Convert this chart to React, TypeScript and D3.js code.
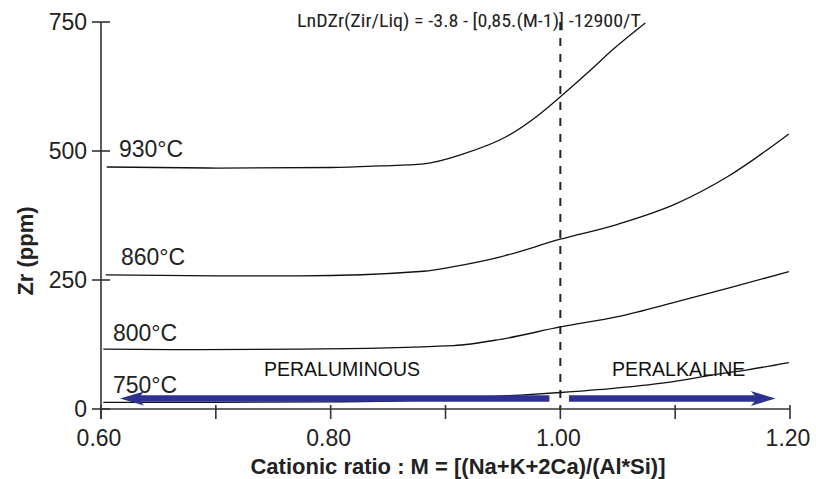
import React from "react";
import * as d3 from "d3";

// ---- data ----
const m930 = [0.605, 0.70, 0.80, 0.843, 0.881, 0.915, 0.954, 0.98, 1.0, 1.0235, 1.046, 1.074];
const zr930 = [469, 467, 468, 471, 475, 494, 529, 568, 605, 651, 697, 748];

const m860 = [0.604, 0.70, 0.773, 0.881, 0.907, 0.948, 1.0, 1.05, 1.10, 1.1455, 1.199];
const zr860 = [260, 258, 258, 267, 276, 295, 329, 358, 397, 450, 533];

const m800 = [0.602, 0.686, 0.773, 0.907, 0.948, 1.0, 1.05, 1.10, 1.1455, 1.199];
const zr800 = [116, 115, 116, 123, 135, 159, 179, 207, 234, 266];

const m750 = [0.602, 0.70, 0.80, 0.86, 0.90, 0.948, 0.965, 1.0, 1.046, 1.0985, 1.133, 1.163, 1.199];
const zr750 = [13, 13, 14, 16, 19, 25, 27, 32, 40, 53, 66, 76, 90];

const seriesNames = ["930°C", "860°C", "800°C", "750°C"];
const yTicks = [0, 250, 500, 750];
const xMajorTicks = [0.6, 0.8, 1.0, 1.2];
const xMinorTicks = [0.7, 0.9, 1.1];
const formula = "LnDZr(Zir/Liq) = -3.8 - [0,85.(M-1)] -12900/T";
const xTitle = "Cationic ratio : M = [(Na+K+2Ca)/(Al*Si)]";
const yTitle = "Zr (ppm)";

const W = 816;
const H = 479;

export default function App() {
  const x = d3.scaleLinear().domain([0.6, 1.2]).range([101, 790]);
  const y = d3.scaleLinear().domain([0, 750]).range([409, 22]);

  const line = d3
    .line<[number, number]>()
    .x((d) => x(d[0]))
    .y((d) => y(d[1]))
    .curve(d3.curveMonotoneX);

  const series = [
    { name: seriesNames[0], m: m930, z: zr930, lx: 119, dy: -10 },
    { name: seriesNames[1], m: m860, z: zr860, lx: 121, dy: -10 },
    { name: seriesNames[2], m: m800, z: zr800, lx: 113, dy: -8 },
    { name: seriesNames[3], m: m750, z: zr750, lx: 113, dy: -9 },
  ];

  const axisColor = "#333";
  const arrowColor = "#2f3192";
  const font = "'Liberation Sans', Arial, sans-serif";
  const ay = y(0) - 10.5;

  const leftArrow = (x1: number, x2: number) => {
    const hl = 24;
    const hw = 7;
    const sw = 3.3;
    return `M${x1},${ay - sw} L${x2 + hl - 3},${ay - sw} L${x2 + hl},${ay - hw} L${x2},${ay} L${x2 + hl},${ay + hw} L${x2 + hl - 3},${ay + sw} L${x1},${ay + sw} Z`;
  };
  const rightArrow = (x1: number, x2: number) => {
    const hl = 25;
    const hw = 7.5;
    const sw = 3.3;
    return `M${x1},${ay - sw} L${x2 - hl + 4},${ay - sw} L${x2 - hl},${ay - hw} L${x2},${ay} L${x2 - hl},${ay + hw} L${x2 - hl + 4},${ay + sw} L${x1},${ay + sw} Z`;
  };

  return (
    <svg
      width={W}
      height={H}
      style={{ position: "absolute", left: 0, top: 0, background: "#fff" }}
      fontFamily={font}
    >
      <rect x={0} y={0} width={W} height={H} fill="#fff" />

      {/* dashed divider at M = 1 */}
      <line
        x1={x(1.0)}
        x2={x(1.0)}
        y1={y(750)}
        y2={y(0)}
        stroke="#222"
        strokeWidth={2}
        strokeDasharray="8,8"
      />

      {/* curves */}
      {series.map((s) => (
        <path
          key={s.name}
          d={line(s.m.map((v, i) => [v, s.z[i]] as [number, number])) || ""}
          fill="none"
          stroke="#111"
          strokeWidth={1.3}
        />
      ))}

      {/* temperature labels */}
      {series.map((s) => (
        <text key={s.name + "l"} x={s.lx} y={y(s.z[0]) + s.dy} fontSize={23} fill="#222">
          {s.name}
        </text>
      ))}

      {/* region labels */}
      <text x={264} y={375.5} fontSize={19.5} fill="#111">PERALUMINOUS</text>
      <text x={612} y={376} fontSize={19.5} fill="#111">PERALKALINE</text>

      {/* arrows */}
      <path d={leftArrow(x(0.9905), x(0.6165))} fill={arrowColor} />
      <path d={rightArrow(x(1.0075), x(1.1875))} fill={arrowColor} />

      {/* axes */}
      <line x1={x(0.6)} x2={x(0.6)} y1={y(750)} y2={y(0) + 10} stroke={axisColor} strokeWidth={1.6} />
      <line x1={x(0.6)} x2={x(1.2)} y1={y(0)} y2={y(0)} stroke={axisColor} strokeWidth={1.6} />
      {yTicks.map((t) => (
        <g key={"yt" + t}>
          <line x1={x(0.6) - 9} x2={x(0.6) + 9} y1={y(t)} y2={y(t)} stroke={axisColor} strokeWidth={1.6} />
          <text x={87} y={y(t) + 7.5} fontSize={23} textAnchor="end" fill="#222">
            {t}
          </text>
        </g>
      ))}
      {[...xMajorTicks, ...xMinorTicks].map((t) => (
        <line
          key={"xt" + t}
          x1={x(t)}
          x2={x(t)}
          y1={y(0) - 4}
          y2={y(0) + 10}
          stroke={axisColor}
          strokeWidth={1.6}
        />
      ))}
      {xMajorTicks.map((t) => (
        <text key={"xl" + t} x={x(t) - 2} y={446} fontSize={23} textAnchor="middle" fill="#222">
          {t.toFixed(2)}
        </text>
      ))}

      {/* titles */}
      <text x={458} y={474} fontSize={22} fontWeight="bold" textAnchor="middle" fill="#222">
        {xTitle}
      </text>
      <text
        transform={`translate(33,251) rotate(-90)`}
        fontSize={22}
        fontWeight="bold"
        textAnchor="middle"
        fill="#222"
      >
        {yTitle}
      </text>

      {/* formula */}
      <text
        x={297}
        y={27}
        fontSize={18.5}
        fill="#222"
        fontFamily="'Liberation Sans Narrow', 'Arial Narrow', 'Roboto Condensed', sans-serif"
        textLength={344}
        lengthAdjust="spacingAndGlyphs"
      >
        {formula}
      </text>
    </svg>
  );
}
